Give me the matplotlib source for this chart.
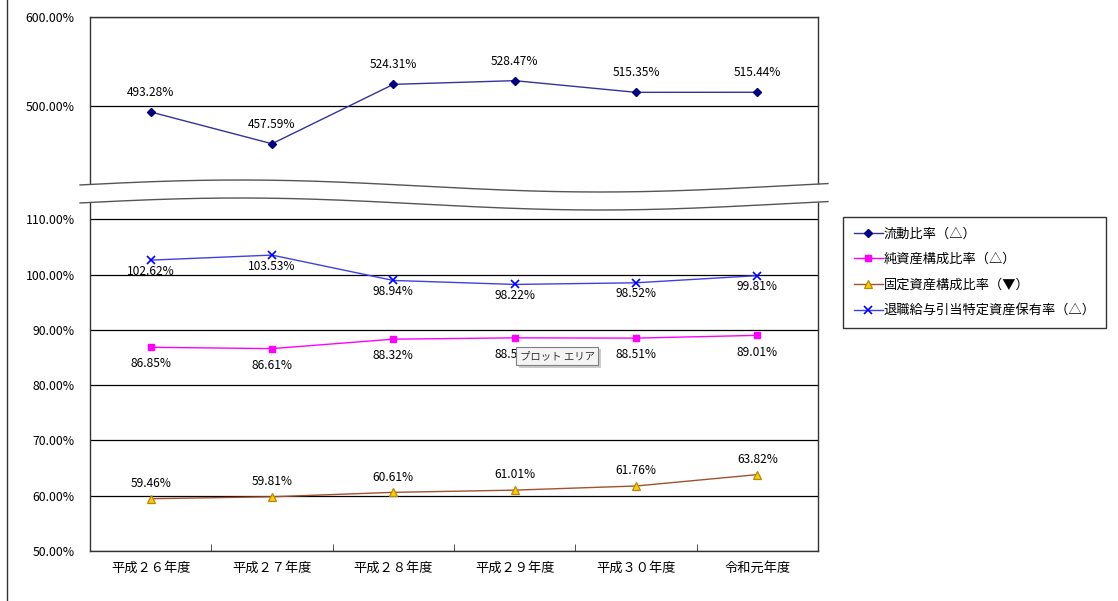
import numpy as np
import matplotlib
matplotlib.use("Agg")
from matplotlib import pyplot as plt
from matplotlib.patches import Rectangle
from matplotlib.ticker import FixedLocator, FuncFormatter

plt.rcParams['font.family'] = ['Noto Sans CJK JP', 'DejaVu Sans']

# data
years = ['平成２６年度', '平成２７年度', '平成２８年度', '平成２９年度', '平成３０年度', '令和元年度']
ryudo = [493.28, 457.59, 524.31, 528.47, 515.35, 515.44]
junshisan = [86.85, 86.61, 88.32, 88.56, 88.51, 89.01]
kotei = [59.46, 59.81, 60.61, 61.01, 61.76, 63.82]
taishoku = [102.62, 103.53, 98.94, 98.22, 98.52, 99.81]

W, H = 1118, 601
fig = plt.figure(figsize=(W / 100, H / 100), dpi=100)
x = np.arange(len(years))

# plot area pixel geometry
left, right = 90, 818
top_y, mid_y, bot_y = 17, 195, 551


def fig_rect(x0, x1, y0, y1):
    return [x0 / W, 1 - y1 / H, (x1 - x0) / W, (y1 - y0) / H]


ax_top = fig.add_axes(fig_rect(left, right, top_y, mid_y))
ax_bot = fig.add_axes(fig_rect(left, right, mid_y, bot_y))

fmt = FuncFormatter(lambda v, p: '{:.2f}%'.format(v))

for ax in (ax_top, ax_bot):
    ax.set_xlim(-0.5, len(years) - 0.5)
    ax.yaxis.set_major_formatter(fmt)
    ax.tick_params(axis='y', length=0, pad=11, labelsize=8.8)
    ax.yaxis.grid(True, color='black', lw=0.9)
    ax.set_axisbelow(True)
    for s in ax.spines.values():
        s.set_color('#333333')
        s.set_linewidth(1)

ax_top.set_ylim(400, 600)
ax_top.yaxis.set_major_locator(FixedLocator([500, 600]))
ax_top.spines['bottom'].set_visible(False)
ax_top.set_xticks([])

ax_bot.set_ylim(50, 114.4)
ax_bot.yaxis.set_major_locator(FixedLocator([50, 60, 70, 80, 90, 100, 110]))
ax_bot.spines['top'].set_visible(False)
ax_bot.set_xticks(x)
ax_bot.set_xticklabels(years, fontsize=9.5)
ax_bot.set_xticks(x[:-1] + 0.5, minor=True)
ax_bot.tick_params(axis='x', which='major', length=0, pad=8)
ax_bot.tick_params(axis='x', which='minor', direction='in', length=5, color='#333333')

# series
l1, = ax_top.plot(x, ryudo, color='#333399', lw=1, marker='D', ms=4.5,
                  mfc='#000080', mec='#000080', label='流動比率（△）')
l2, = ax_bot.plot(x, junshisan, color='#FF00FF', lw=1, marker='s', ms=5,
                  mfc='#FF00FF', mec='#FF00FF', label='純資産構成比率（△）')
l3, = ax_bot.plot(x, kotei, color='#A0522D', lw=1, marker='^', ms=5.5,
                  mfc='#FFCC00', mec='#B8860B', mew=0.9, label='固定資産構成比率（▼）')
l4, = ax_bot.plot(x, taishoku, color='#4040E0', lw=1, marker='x', ms=5.5,
                  mec='#0000FF', mew=1.2, label='退職給与引当特定資産保有率（△）')

lab_kw = dict(textcoords='offset points', ha='center', va='center', fontsize=8.6)
for i in x:
    ax_top.annotate('{:.2f}%'.format(ryudo[i]), (i, ryudo[i]), xytext=(0, 14), **lab_kw)
    ax_bot.annotate('{:.2f}%'.format(taishoku[i]), (i, taishoku[i]), xytext=(0, -8), **lab_kw)
    ax_bot.annotate('{:.2f}%'.format(junshisan[i]), (i, junshisan[i]), xytext=(0, -12), **lab_kw)
    ax_bot.annotate('{:.2f}%'.format(kotei[i]), (i, kotei[i]), xytext=(0, 11), **lab_kw)

# overlay in pixel coords for the axis break and decorations
ov = fig.add_axes([0, 0, 1, 1], zorder=10)
ov.set_xlim(0, W)
ov.set_ylim(H, 0)
ov.axis('off')
ov.patch.set_alpha(0)

wx = np.linspace(80, 828, 200)
wy = 186 - 6 * np.cos(np.pi * (wx - 240) / 360)
ov.fill_between(wx, wy, wy + 18, color='white', lw=0)
ov.plot(wx, wy, color='#555555', lw=1)
ov.plot(wx, wy + 18, color='#555555', lw=1)

# outer chart border (left edge)
ov.plot([7, 7], [0, H], color='#333333', lw=1)

# tooltip from the screenshot (with a soft shadow)
ov.add_patch(Rectangle((519, 349), 82, 19, color='#cccccc', lw=0))
ov.text(557, 356, 'プロット エリア', fontsize=7.5, ha='center', va='center', color='#333333',
        bbox=dict(boxstyle='square,pad=0.35', fc='#f4f4f4', ec='#808080', lw=0.8))

leg = fig.legend(handles=[l1, l2, l3, l4], loc='upper left',
                 bbox_to_anchor=(843 / W, 1 - 217 / H), fontsize=9.5,
                 frameon=True, fancybox=False, edgecolor='black',
                 handlelength=2.2, handletextpad=0.1, labelspacing=0.95,
                 borderpad=0.8, borderaxespad=0)
leg.get_frame().set_linewidth(1)

fig.savefig('out.png', dpi=100)
